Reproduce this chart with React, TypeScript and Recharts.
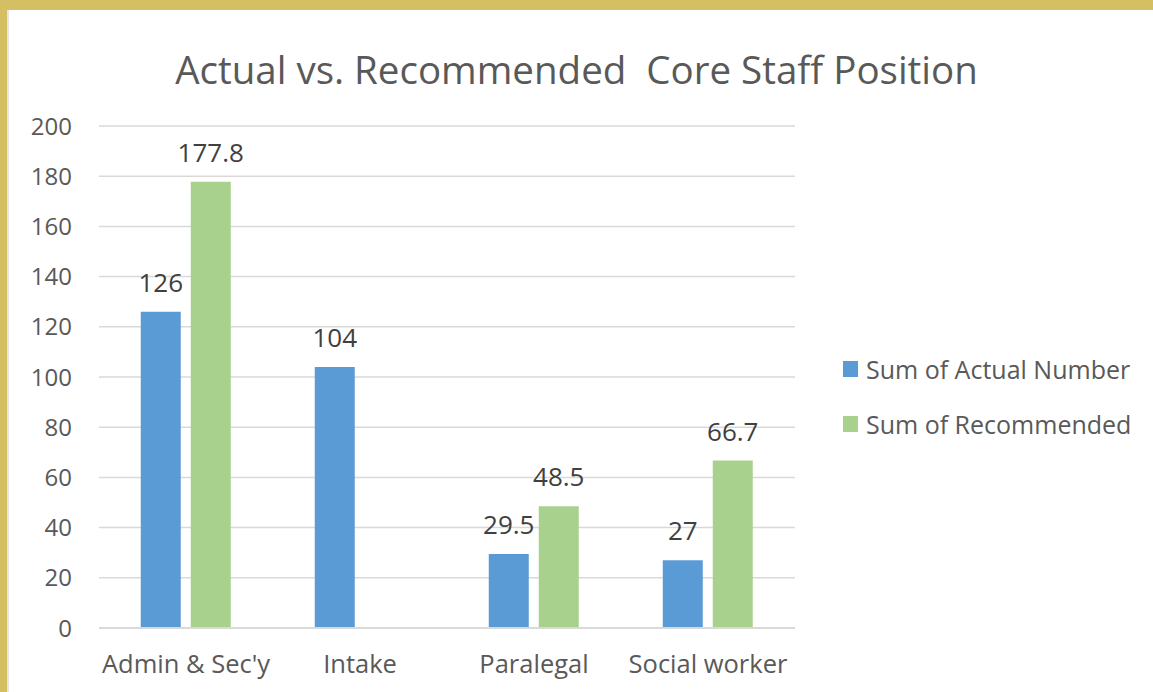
import { BarChart, Bar, XAxis, YAxis, CartesianGrid, LabelList } from 'recharts'

// chart values
const categories = ['Admin & Sec\'y', 'Intake', 'Paralegal', 'Social worker']
const actualNumber = [126, 104, 29.5, 27]
const recommended: (number | null)[] = [177.8, null, 48.5, 66.7]
const yTicks = [0, 20, 40, 60, 80, 100, 120, 140, 160, 180, 200]

const COLORS = {
  actual: '#5B9BD5',
  recommended: '#A9D18E',
  text: '#595959',
  label: '#404040',
  grid: '#D9D9D9',
  gold: '#D4BF62',
}

const FONT = '"Open Sans", sans-serif'

const chartData = categories.map((name, i) => ({
  name,
  actual: actualNumber[i],
  recommended: recommended[i],
}))

const legendItems = [
  { label: 'Sum of Actual Number', color: COLORS.actual },
  { label: 'Sum of Recommended', color: COLORS.recommended },
]

function LegendBox() {
  return (
    <div style={{ position: 'absolute', left: 843, top: 341, fontFamily: FONT }}>
      {legendItems.map((item) => (
        <div key={item.label} style={{ display: 'flex', alignItems: 'center', height: 55 }}>
          <span style={{ width: 15, height: 16, background: item.color, marginRight: 8 }} />
          <span style={{ fontSize: 25, color: COLORS.text, whiteSpace: 'nowrap' }}>{item.label}</span>
        </div>
      ))}
    </div>
  )
}

export default function App() {
  return (
    <div
      style={{
        position: 'fixed',
        left: 0,
        top: 0,
        width: 1153,
        height: 692,
        background: '#fff',
        overflow: 'hidden',
      }}
    >
      {/* gold frame + thin grey edge */}
      <div style={{ position: 'absolute', left: 0, top: 0, width: 1153, height: 10, background: COLORS.gold }} />
      <div style={{ position: 'absolute', left: 0, top: 0, width: 7, height: 692, background: COLORS.gold }} />
      <div style={{ position: 'absolute', left: 7, top: 10, width: 2, height: 682, background: '#E4E4EC' }} />

      <div
        style={{
          position: 'absolute',
          left: 0,
          top: 43,
          width: 1153,
          textAlign: 'center',
          fontFamily: FONT,
          fontSize: 38.5,
          color: COLORS.text,
          whiteSpace: 'pre',
        }}
      >
        {'Actual vs. Recommended  Core Staff Position'}
      </div>

      <div style={{ position: 'absolute', left: 0, top: 0 }}>
        <BarChart
          width={1153}
          height={692}
          data={chartData}
          margin={{ top: 126, right: 358, left: 0, bottom: 0 }}
          barCategoryGap="24%"
          barGap={10}
        >
          <CartesianGrid vertical={false} stroke={COLORS.grid} strokeWidth={1.5} />
          <XAxis
            dataKey="name"
            height={64}
            interval={0}
            axisLine={{ stroke: COLORS.grid, strokeWidth: 2 }}
            tickLine={false}
            tickSize={0}
            tickMargin={27}
            tick={{ fontSize: 25.5, fill: COLORS.text, fontFamily: FONT }}
          />
          <YAxis
            width={99}
            domain={[0, 200]}
            ticks={yTicks}
            axisLine={false}
            tickLine={false}
            tickSize={0}
            tickMargin={27}
            tick={{ fontSize: 24, fill: COLORS.text, fontFamily: FONT }}
          />
          <Bar dataKey="actual" fill={COLORS.actual} isAnimationActive={false}>
            <LabelList
              dataKey="actual"
              position="top"
              offset={20}
              style={{ fontSize: 26, fill: COLORS.label, fontFamily: FONT }}
            />
          </Bar>
          <Bar dataKey="recommended" fill={COLORS.recommended} isAnimationActive={false}>
            <LabelList
              dataKey="recommended"
              position="top"
              offset={20}
              style={{ fontSize: 26, fill: COLORS.label, fontFamily: FONT }}
            />
          </Bar>
        </BarChart>
      </div>

      <LegendBox />
    </div>
  )
}
